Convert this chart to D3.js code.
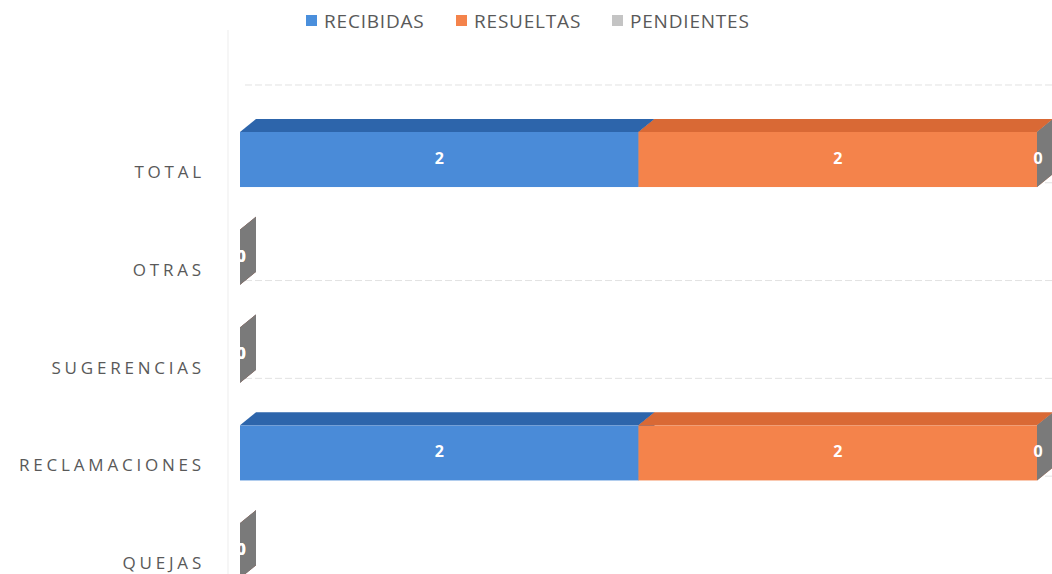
<!DOCTYPE html>
<html><head><meta charset="utf-8">
<script src="https://cdn.jsdelivr.net/npm/d3@7"></script>
<style>body{margin:0;background:#fff}svg{display:block}</style>
</head><body>
<svg id="c" width="1052" height="574"></svg>
<script>
const categories = ["TOTAL","OTRAS","SUGERENCIAS","RECLAMACIONES","QUEJAS"];
const seriesNames = ["RECIBIDAS","RESUELTAS","PENDIENTES"];
const recibidas  = [2,0,0,2,0];
const resueltas  = [2,0,0,2,0];
const pendientes = [0,0,0,0,0];
const seriesValues = [recibidas, resueltas, pendientes];

const colors = {
  RECIBIDAS:  {front:"#4a8bd8", top:"#2d65ab", side:"#2a5e9e", legend:"#4a8fdc"},
  RESUELTAS:  {front:"#f4834b", top:"#d96935", side:"#c45d2e", legend:"#f4834b"},
  PENDIENTES: {front:"#9a9a9a", top:"#8c8c8c", side:"#7a7a7a", legend:"#c4c4c4"}
};

const svg = d3.select("#c");
const W = 1052, H = 574;
const dx = 16, dy = 13;

const x = d3.scaleLinear().domain([0,4]).range([240,1037]);
const step = 97.8, p = 0.437;
const y = d3.scaleBand().domain(categories).range([110.6, 110.6 + 5*step]).paddingInner(p).paddingOuter(p/2);

// faint back-wall grid lines
const gridG = svg.append("g");
const gridYs = categories.map(c => y(c) - 47);
gridG.selectAll("line").data(gridYs).join("line")
  .attr("x1", 245).attr("x2", W).attr("y1", d=>d).attr("y2", d=>d)
  .attr("stroke", "#e2e2e2").attr("stroke-width", 1).attr("stroke-dasharray","7,3");
svg.append("line").attr("x1",228).attr("x2",228).attr("y1",30).attr("y2",H)
  .attr("stroke","#ededed").attr("stroke-width",1);

// stacked 3D bars
const barsG = svg.append("g");
const labels = [];
categories.forEach((cat, i) => {
  let acc = 0;
  const y0 = y(cat), h = y.bandwidth();
  seriesNames.forEach((s, k) => {
    const v = seriesValues[k][i];
    const xa = x(acc), xb = x(acc + v);
    const col = colors[s];
    barsG.append("rect").attr("x", xa).attr("y", y0).attr("width", xb - xa).attr("height", h)
      .attr("fill", col.front);
    barsG.append("path").attr("d", `M${xa},${y0}L${xa+dx},${y0-dy}L${xb+dx},${y0-dy}L${xb},${y0}Z`)
      .attr("fill", col.top);
    barsG.append("path").attr("d", `M${xb},${y0}L${xb+dx},${y0-dy}L${xb+dx},${y0+h-dy}L${xb},${y0+h}Z`)
      .attr("fill", col.side);
    labels.push({x: v > 0 ? (xa + xb)/2 : xb + 1, y: y0 + h/2, t: String(v)});
    acc += v;
  });
});
barsG.selectAll("text.lab").data(labels).join("text").attr("class","lab")
  .attr("x", d=>d.x).attr("y", d=>d.y).attr("text-anchor","middle").attr("dominant-baseline","middle")
  .attr("fill","#fff").attr("font-family","'Open Sans', sans-serif")
  .attr("font-weight","bold").attr("font-size",16).text(d=>d.t);

// category axis labels
svg.append("g").selectAll("text").data(categories).join("text")
  .attr("x", 205).attr("y", c => y(c) + y.bandwidth()/2 + 14)
  .attr("text-anchor","end").attr("dominant-baseline","middle")
  .attr("fill","#595959").attr("font-family","'Open Sans', 'Noto Sans', sans-serif")
  .attr("font-size",17).attr("letter-spacing","3.8px").text(d=>d);

// legend
const legendX = [306, 456, 612];
const lg = svg.append("g");
seriesNames.forEach((s, k) => {
  lg.append("rect").attr("x", legendX[k]).attr("y", 15).attr("width", 11).attr("height", 11)
    .attr("fill", colors[s].legend);
  lg.append("text").attr("x", legendX[k] + 18).attr("y", 28)
    .attr("fill","#595959").attr("font-family","'Open Sans', 'Noto Sans', sans-serif")
    .attr("font-size",19).attr("letter-spacing","0.8px").text(s);
});
</script>
</body></html>
